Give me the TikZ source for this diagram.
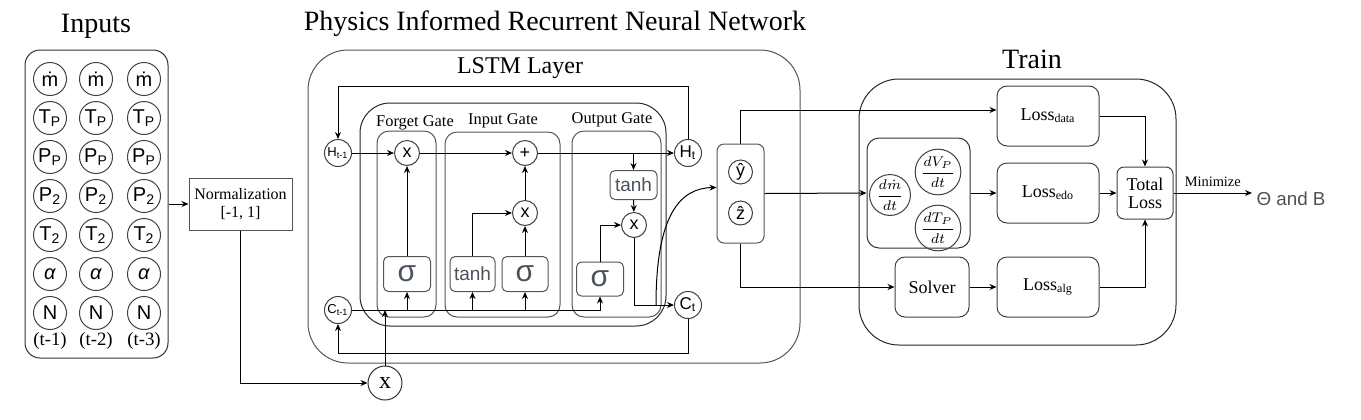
\documentclass[tikz,border=0pt]{standalone}
\usepackage{amsmath}
\usepackage{fontspec}
\setmainfont{Liberation Serif}
\setsansfont{Liberation Sans}
\usetikzlibrary{arrows.meta}
\definecolor{boxgray}{HTML}{555555}
\definecolor{actgray}{HTML}{4A525C}
\definecolor{outgray}{HTML}{505050}
\newcommand{\fsz}[1]{\fontsize{#1}{#1}\selectfont}

\begin{document}
\begin{tikzpicture}[x=0.5pt, y=-0.5pt, line width=0.5pt, >={Stealth[length=3.5pt,width=3pt]},
  frame/.style={draw=boxgray, inner sep=0pt},
  var/.style={circle, draw=black!75, inner sep=0pt, minimum size=16.5pt, font=\sffamily\fsz{10}},
  state/.style={circle, draw=black!75, inner sep=0pt, minimum size=13.5pt, font=\sffamily\fsz{6.5}},
  op/.style={circle, draw=black!75, inner sep=0pt, minimum size=12.5pt, font=\sffamily\fsz{9}},
  act/.style={draw=boxgray, rounded corners=2.5pt, inner sep=0pt, minimum height=17.5pt, text=actgray, font=\sffamily\fsz{15}},
  dcirc/.style={circle, draw=black!75, inner sep=0pt, minimum size=18.5pt, font=\fsz{6.8}},
  lossbox/.style={draw=black!75, rounded corners=5pt, inner sep=0pt, minimum width=51pt, minimum height=30pt, font=\fsz{9}},
  title/.style={font=\fsz{14}},
  gatelbl/.style={font=\fsz{8.2}}]

\useasboundingbox (0,0) rectangle (1361,419);

% titles
\node[title] (inttl) at (96,26) {Inputs};
\node[title] (pirnn) at (555,24) {Physics Informed Recurrent Neural Network};
\node[title] (trttl) at (1032,59) {Train};

% inputs
\node[frame, draw=black!80, rounded corners=7.5pt, minimum width=71.5pt, minimum height=154pt] (inputs) at (96.5,204) {};
\foreach \colx/\t [count=\c] in {50/1, 96/2, 144/3}{
  \foreach \lbl [count=\r] in {m\symbol{"0307}, T\textsubscript{P}, P\textsubscript{P}, P\textsubscript{2}, T\textsubscript{2}, \textit{α}, N}
    \node[var] (in\c\r) at (\colx, {79+39*(\r-1)}) {\lbl};
  \node[font=\fsz{9.4}, inner sep=0pt] (tl\c) at (\colx,341) {(t-\t)};
}

\node[draw=boxgray, inner sep=0pt, minimum width=51.5pt, minimum height=26pt, align=center, font=\fsz{8}] (norm) at (240.5,204) {Normalization\\[1pt][-1, 1]};
\node[circle, draw=black!80, inner sep=0pt, minimum size=17pt, font=\fsz{12}] (xin) at (385,383) {x};

% LSTM layer
\node[frame, rounded corners=20pt, minimum width=246pt, minimum height=156.5pt] (lstm) at (554,206.5) {};
\node[font=\fsz{12}] (lstmttl) at (520,68) {LSTM Layer};
\node[frame, draw=black!85, rounded corners=15pt, minimum width=153pt, minimum height=111.5pt] (cell) at (513,214.5) {};
\node[frame, rounded corners=6pt, minimum width=29.5pt, minimum height=93pt] (fgate) at (406.5,224) {};
\node[frame, rounded corners=6pt, minimum width=57.5pt, minimum height=92.5pt] (igate) at (502.5,224.5) {};
\node[frame, rounded corners=6pt, minimum width=44.5pt, minimum height=93pt] (ogate) at (616.5,224) {};
\node[gatelbl] (fglbl) at (415,123) {Forget Gate};
\node[gatelbl] (iglbl) at (503,121) {Input Gate};
\node[gatelbl] (oglbl) at (612,120) {Output Gate};

\node[state] (Hm1) at (338,153) {H\textsubscript{t-1}};
\node[state] (Cm1) at (338,310) {C\textsubscript{t-1}};
\node[state, font=\sffamily\fsz{8.5}] (Ht) at (688,153) {H\textsubscript{t}};
\node[state, font=\sffamily\fsz{8.5}] (Ct) at (688,305) {C\textsubscript{t}};

\node[op] (fx) at (407,153) {x};
\node[act, minimum width=23.5pt] (fsig) at (407,274) {σ};
\node[op] (plus) at (525,153) {+};
\node[op] (ix) at (525,213) {x};
\node[act, minimum width=22.5pt, font=\sffamily\fsz{9.5}] (itanh) at (472.5,274) {tanh};
\node[act, minimum width=23pt] (isig) at (525,274) {σ};
\node[act, minimum width=23.5pt, minimum height=14.5pt, font=\sffamily\fsz{9.5}] (otanh) at (633.5,185) {tanh};
\node[op] (ox) at (634,225) {x};
\node[act, minimum width=23.5pt, minimum height=17pt] (osig) at (600,279) {σ};

\draw[->] (inputs.east) -- (norm.west);
\draw[->] (norm.south) |- (xin.west);
\draw[->] (xin.north) -- (xin.north |- Cm1);
\draw[->] (Ht.north) -- ++(0,-53) -| (Hm1.north);
\draw[->] (Ct.south) -- ++(0,34.5) -| (Cm1.south);
\draw[->] (Hm1) -- (fx);
\draw[->] (fx) -- (plus);
\draw[->] (plus) -- (Ht);
\draw[->] (Cm1.east) -| (osig.south);
\draw[->] (fsig.south |- Cm1) -- (fsig.south);
\draw[->] (itanh.south |- Cm1) -- (itanh.south);
\draw[->] (isig.south |- Cm1) -- (isig.south);
\draw[->] (fsig) -- (fx);
\draw[->] (isig) -- (ix);
\draw[->] (ix) -- (plus);
\draw[->] (itanh.north) |- (ix.west);
\draw[->] (otanh.north |- plus) -- (otanh.north);
\draw[->] (otanh) -- (ox);
\draw[->] (osig.north) |- (ox.west);
\draw[->] (ox.south) |- (Ct.west);

% outputs
\node[frame, rounded corners=3.5pt, minimum width=23.5pt, minimum height=49.5pt] (yz) at (740.5,193.5) {};
\node[op, minimum size=12pt] (yhat) at (740.5,172) {y\symbol{"0302}};
\node[op, minimum size=12pt] (zhat) at (740.5,213) {z\symbol{"0302}};
\coordinate (tap) at (656,305);
\draw[->] (tap) .. controls (656,215) and (680,188) .. ([yshift=3pt]yz.west);

% train
\node[frame, draw=black!85, rounded corners=20pt, minimum width=158.5pt, minimum height=133pt] (train) at (1017.5,212) {};
\node[frame, draw=black!80, rounded corners=6pt, minimum width=51.5pt, minimum height=55pt] (deriv) at (918.5,193) {};
\node[dcirc, minimum size=17pt] (dm) at (890,195) {$\dfrac{d\dot{m}}{dt}$};
\node[dcirc] (dV) at (938,172) {$\dfrac{dV_P}{dt}$};
\node[dcirc] (dT) at (938,228) {$\dfrac{dT_P}{dt}$};
\node[lossbox] (ldata) at (1048,116) {Loss\textsubscript{data}};
\node[lossbox] (ledo) at (1048,193) {Loss\textsubscript{edo}};
\node[lossbox] (lalg) at (1048,287) {Loss\textsubscript{alg}};
\node[lossbox, minimum width=37pt] (solver) at (932,287) {Solver};
\node[lossbox, rounded corners=3.5pt, minimum width=28pt, minimum height=26pt, align=center] (total) at (1145,193) {Total\\Loss};
\node[anchor=west, inner sep=0pt, text=outgray, font=\sffamily\fsz{9.4}] (theta) at (1256,199) {Θ and B};

\draw[->] (yz.north) |- ([yshift=3pt]ldata.west);
\draw[->] (yz.east) -- (deriv.west);
\draw[->] (yz.south) |- (solver.west);
\draw[->] (deriv) -- (ledo);
\draw[->] (solver) -- (lalg);
\draw[->] (ldata.east) -| (total.north);
\draw[->] (ledo) -- (total);
\draw[->] (lalg.east) -| (total.south);
\draw[->] (total.east) -- node[above, inner sep=3pt, font=\fsz{7.2}] (minlbl) {Minimize} ([xshift=-2pt]theta.west |- total.east);

\end{tikzpicture}
\end{document}
